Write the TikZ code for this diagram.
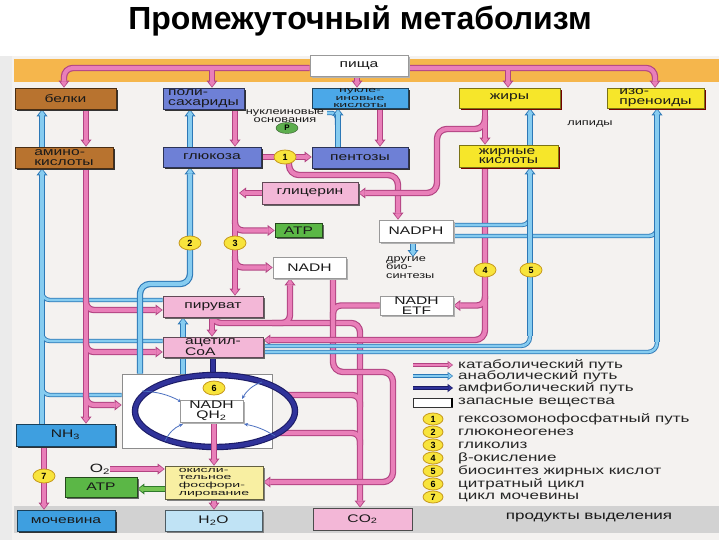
\documentclass[tikz,border=0pt]{standalone}
\usepackage{fontspec}
\setmainfont{Liberation Sans}
\newfontfamily\wfont[FakeStretch=1.42]{Liberation Sans}
\newfontfamily\wfontx[FakeStretch=1.85]{Liberation Sans}
\usetikzlibrary{arrows.meta,shapes.geometric,shadows}
\pgfdeclarelayer{bgl}
\pgfdeclarelayer{pipel}
\pgfsetlayers{bgl,pipel,main}
\definecolor{pk}{HTML}{E97FB9}
\definecolor{pkD}{HTML}{B24382}
\definecolor{bl}{HTML}{86CCF0}
\definecolor{blD}{HTML}{2C78B6}
\definecolor{nv}{HTML}{30339A}
\definecolor{nvD}{HTML}{1C1C66}
\definecolor{gr}{HTML}{74C452}
\definecolor{grD}{HTML}{2F7A2B}
\definecolor{cbrn}{HTML}{B8732F}
\definecolor{cpur}{HTML}{6E80D6}
\definecolor{cnuc}{HTML}{4BA8E8}
\definecolor{cyel}{HTML}{F6E62A}
\definecolor{cpkb}{HTML}{F3B7D7}
\definecolor{cgrb}{HTML}{5BB746}
\definecolor{cnhb}{HTML}{3E9FE0}
\definecolor{ch2o}{HTML}{C0E3F5}
\definecolor{cokf}{HTML}{F8EFA2}
\definecolor{corng}{HTML}{F5B64C}
\definecolor{cbg}{HTML}{F4F2F0}
\definecolor{cgray}{HTML}{D2D2D2}
\definecolor{numF}{HTML}{F8E43C}
\definecolor{numD}{HTML}{C79A1E}
\definecolor{cP}{HTML}{5DAE4E}
\definecolor{cthin}{HTML}{4A6FC0}
\tikzset{
 bx/.style={rectangle, draw, line width=0.7pt, inner sep=0pt, font=\wfont\fontsize{11}{9.8}\selectfont, text=black!90},
 shd/.style={drop shadow={shadow xshift=1.6pt,shadow yshift=-1.6pt,fill=#1,opacity=1}},
 shd/.default=black!80,
 brb/.style={bx, fill=cbrn, draw=cbrn!40!black, shd},
 pub/.style={bx, fill=cpur, draw=cpur!40!black, shd},
 nub/.style={bx, fill=cnuc, draw=cnuc!40!black, shd},
 yeb/.style={bx, fill=cyel, draw=cyel!50!black, shd=red!45!black},
 pib/.style={bx, fill=cpkb, draw=cpkb!40!black, shd=black!60},
 grb/.style={bx, fill=cgrb, draw=cgrb!40!black, shd=black!60},
 whb/.style={bx, fill=white, draw=black!40, shd=black!30},
 nhb/.style={bx, fill=cnhb, draw=cnhb!40!black, shd},
 sz/.style 2 args={minimum width=#1pt, minimum height=#2pt},
 numc/.style={ellipse, draw=numD, fill=numF, line width=0.8pt, minimum width=22pt, minimum height=14pt, inner sep=0pt, font=\bfseries\fontsize{9}{9}\selectfont},
 lt9/.style={inner sep=0pt, font=\wfont\fontsize{9}{8.6}\selectfont, text=black!90},
 lt10/.style={inner sep=0pt, font=\wfont\fontsize{12}{12}\selectfont, text=black!90},
 lgt/.style={anchor=west, inner sep=0pt, font=\wfont\fontsize{12}{12}\selectfont, text=black!85},
 wa/.style={}, twa/.style={}, tp/.style={}
}
\newcommand\pD[3][]{\draw[wa/.style={-{Triangle[length=7pt,width=11pt,line width=0pt]}}, twa/.style={-{Triangle[length=5.5pt,width=8.5pt,line width=0pt]}}, tp/.style={line width=4.4pt}, #2D, line width=6.4pt, #1] #3;}
\newcommand\pL[3][]{\draw[wa/.style={-{Triangle[length=5pt,width=7pt,line width=0pt]},shorten >=1.1pt}, twa/.style={-{Triangle[length=3.8pt,width=5.2pt,line width=0pt]},shorten >=0.9pt}, tp/.style={line width=2.6pt}, #2, line width=4.2pt, #1] #3;}
\newcommand\pP[3][]{\pD[#1]{#2}{#3}\pL[#1]{#2}{#3}}
\begin{document}
\begin{tikzpicture}[x=1pt,y=-1pt]
\useasboundingbox (0,0) rectangle (720,540);
\begin{pgfonlayer}{bgl}
 \fill[white] (0,0) rectangle (720,540);
 \fill[black!8] (0,56) rectangle (12,540);
 \fill[cbg] (12,56) rectangle (719,540);
 \fill[corng] (14,59) rectangle (719,82);
 \fill[cgray] (14,506) rectangle (719,533);
 \node[draw=black!45, fill=white, line width=0.8pt, minimum width=150pt, minimum height=74pt, inner sep=0pt] (cbox) at (197,411) {};
\end{pgfonlayer}

\node[font=\bfseries\fontsize{32}{34}\selectfont] (title) at (360,21) {Промежуточный метаболизм};

% boxes
\node[whb,sz={98}{21}] (food) at (359,65.5) {пища};
\node[brb,sz={101}{21}] (bel) at (65.5,98.5) {белки};
\node[brb,sz={98}{21},align=left] (amin) at (64,157.5) {амино-\\кислоты};
\node[pub,sz={81}{21},align=left] (polis) at (203.5,98.5) {поли-\\сахариды};
\node[pub,sz={98}{20}] (gluc) at (212,157) {глюкоза};
\node[nub,sz={96}{20},align=center,font=\wfontx\fontsize{7.6}{7.4}\selectfont] (nuk) at (360,98) {нукле-\\иновые\\кислоты};
\node[pub,sz={96}{21}] (pent) at (360,157.5) {пентозы};
\node[pib,sz={96}{22}] (glyc) at (310,193) {глицерин};
\node[yeb,sz={101}{20}] (fat) at (509.5,98) {жиры};
\node[yeb,sz={97}{20},align=left] (iso) at (655.5,98) {изо-\\преноиды};
\node[yeb,sz={99}{22},align=left] (fa) at (508.5,156) {жирные\\кислоты};
\node[grb,sz={47}{14}] (atp1) at (298.5,230.5) {ATP};
\node[whb,sz={73}{21}] (nadh) at (309.5,267.5) {NADH};
\node[whb,sz={74}{22}] (nadph) at (416,231) {NADPH};
\node[whb,sz={73}{19},align=center] (etf) at (416.5,305.5) {NADH\\ETF};
\node[pib,sz={100}{21}] (pyr) at (213,306.5) {пируват};
\node[pib,sz={100}{20},align=left] (acoa) at (213,347) {ацетил-\\CoA};
\node[whb,sz={63}{22},align=center] (nadhq) at (211.5,411) {NADH\\QH\textsubscript{2}};
\node[nhb,sz={99}{22}] (nh3) at (65.5,435) {NH\textsubscript{3}};
\node[grb,sz={72}{20}] (atp2) at (101,487) {ATP};
\node[bx,fill=cokf,draw=cokf!40!black,shd=black!50,sz={98}{33},align=left,font=\wfontx\fontsize{7.6}{7.7}\selectfont] (okf) at (214,482.5) {окисли-\\тельное\\фосфори-\\лирование};
\node[nhb,sz={98}{21}] (moch) at (66,520.5) {мочевина};
\node[bx,fill=ch2o,draw=ch2o!40!black,shd=black!50,sz={97}{21}] (h2o) at (213.5,520.5) {H\textsubscript{2}O};
\node[bx,fill=cpkb,draw=black!70,line width=1pt,sz={99}{22}] (co2) at (362.5,519) {CO\textsubscript{2}};

% free texts
\node[lt9,align=center] (nbase) at (285,116) {нуклеиновые\\основания};
\node[lt9] (lip) at (590,124) {липиды};
\node[lt9,align=left,anchor=north west] (bios) at (386,256) {другие\\био-\\синтезы};
\node[lt10] (o2) at (100,469) {O\textsubscript{2}};
\node[lt10] (prod) at (589,518) {продукты выделения};

% numbered circles
\node[numc] (n1) at (285,157) {1};
\node[numc] (n2) at (190,243) {2};
\node[numc] (n3) at (235,243) {3};
\node[numc] (n4) at (485,270) {4};
\node[numc] (n5) at (531,270) {5};
\node[numc] (n6) at (214,388) {6};
\node[numc] (n7) at (44,476) {7};
\node[ellipse, fill=cP, draw=cP!50!black, minimum width=22pt, minimum height=11pt, inner sep=0pt, font=\bfseries\fontsize{8}{8}\selectfont] (pc) at (287,128) {P};

% legend
\node[lgt] (l1) at (458,365) {катаболический путь};
\node[lgt] (l2) at (458,376) {анаболический путь};
\node[lgt] (l3) at (458,388) {амфиболический путь};
\node[draw=black!80, line width=0.6pt, fill=white, minimum width=39pt, minimum height=9pt, inner sep=0pt] (lbox) at (432.5,402.5) {};
\draw[line width=2.2pt] (lbox.north east) -- (lbox.south east);
\node[lgt] (l4) at (458,402) {запасные вещества};
\foreach \n/\yy/\t in {1/419/гексозомонофосфатный путь, 2/432/глюконеогенез, 3/445/гликолиз, 4/458/β-окисление, 5/471/биосинтез жирных кислот, 6/484/цитратный цикл, 7/497/цикл мочевины}{
 \node[numc, minimum width=20pt, minimum height=12pt] (lc\n) at (433,\yy) {\n};
 \node[lgt] (lt\n) at (458,\yy) {\t};
}

\begin{pgfonlayer}{pipel}
% blue amino
\pD[wa]{bl}{(42,0|-nh3.north) -- (42,0|-amin.south)}
\pD[tp,rounded corners=8pt]{bl}{(pyr.west|-0,300) -- (42,300) -- (42,288)}
\pD[tp,rounded corners=8pt]{bl}{(acoa.west|-0,341) -- (42,341) -- (42,329)}
\pD[tp,rounded corners=8pt]{bl}{(cbox.west|-0,395) -- (42,395) -- (42,383)}
\pL[tp,rounded corners=8pt]{bl}{(pyr.west|-0,300) -- (42,300) -- (42,288)}
\pL[tp,rounded corners=8pt]{bl}{(acoa.west|-0,341) -- (42,341) -- (42,329)}
\pL[tp,rounded corners=8pt]{bl}{(cbox.west|-0,395) -- (42,395) -- (42,383)}
\pL[wa]{bl}{(42,0|-nh3.north) -- (42,0|-amin.south)}
\pP[wa]{bl}{(42,0|-amin.north) -- (42,0|-bel.south)}
% pink amino
\pD[wa]{pk}{(86,0|-amin.south) -- (86,0|-nh3.north)}
\pD[wa,rounded corners=8pt]{pk}{(86,298) |- (pyr.west|-0,310)}
\pD[wa,rounded corners=8pt]{pk}{(86,340) |- (acoa.west|-0,352)}
\pD[wa,rounded corners=8pt]{pk}{(86,393) |- (cbox.west|-0,405)}
\pL[wa,rounded corners=8pt]{pk}{(86,298) |- (pyr.west|-0,310)}
\pL[wa,rounded corners=8pt]{pk}{(86,340) |- (acoa.west|-0,352)}
\pL[wa,rounded corners=8pt]{pk}{(86,393) |- (cbox.west|-0,405)}
\pL[wa]{pk}{(86,0|-amin.south) -- (86,0|-nh3.north)}
\pP[wa]{pk}{(86,0|-bel.south) -- (86,0|-amin.north)}
\pP[wa]{pk}{(44,0|-nh3.south) -- (44,0|-moch.north)}
% glucose column
\pP[wa]{pk}{(235,0|-polis.south) -- (235,0|-gluc.north)}
\pP[wa]{bl}{(190,0|-gluc.north) -- (190,0|-polis.south)}
\pP[wa,rounded corners=10pt]{bl}{(140,0|-cbox.north) -- (140,284) -- (190,284) -- (190,0|-gluc.south)}
\pP[wa]{bl}{(183,0|-cbox.north) -- (183,0|-pyr.south)}
% glycolysis
\pD[wa]{pk}{(235,0|-gluc.south) -- (235,0|-pyr.north)}
\pD[wa,rounded corners=8pt]{pk}{(235,220) |- (atp1.west)}
\pD[wa,rounded corners=8pt]{pk}{(235,256) |- (nadh.west)}
\pL[wa,rounded corners=8pt]{pk}{(235,220) |- (atp1.west)}
\pL[wa,rounded corners=8pt]{pk}{(235,256) |- (nadh.west)}
\pL[wa]{pk}{(235,0|-gluc.south) -- (235,0|-pyr.north)}
\pP[wa]{pk}{(glyc.west) -- (239,0|-glyc.west)}
% pentose
\pP[wa]{pk}{(gluc.east) -- (pent.west|-gluc.east)}
\pP[wa,rounded corners=10pt]{pk}{(289,160) -- (289,175) -- (398,175) -- (398,0|-nadph.north)}
% nucleic acids
\pP[tp,rounded corners=5pt]{bl}{(327,113) -- (337,113) -- (337,125)}
\pP[wa]{bl}{(338,0|-pent.north) -- (338,0|-nuk.south)}
\pP[wa]{pk}{(380,0|-nuk.south) -- (380,0|-pent.north)}
% food band
\pD[wa,rounded corners=9pt]{pk}{(food.west|-0,68) -- (64,68) -- (64,0|-bel.north)}
\pD[wa,rounded corners=9pt]{pk}{(food.east|-0,68) -- (655,68) -- (655,0|-iso.north)}
\pD[wa]{pk}{(212,71) -- (212,0|-polis.north)}
\pD[wa]{pk}{(508,71) -- (508,0|-fat.north)}
\pL[wa,rounded corners=9pt]{pk}{(food.west|-0,68) -- (64,68) -- (64,0|-bel.north)}
\pL[wa,rounded corners=9pt]{pk}{(food.east|-0,68) -- (655,68) -- (655,0|-iso.north)}
\pL[wa]{pk}{(212,68) -- (212,0|-polis.north)}
\pL[wa]{pk}{(508,68) -- (508,0|-fat.north)}
\pP[wa]{pk}{(357,0|-food.south) -- (357,0|-nuk.north)}
% lipids
\pD[wa,rounded corners=10pt]{pk}{(485,116) -- (485,129) -- (437,129) -- (437,193) -- (glyc.east)}
\pD[wa]{pk}{(485,0|-fat.south) -- (485,0|-fa.north)}
\pL[wa,rounded corners=10pt]{pk}{(485,116) -- (485,129) -- (437,129) -- (437,193) -- (glyc.east)}
\pL[wa]{pk}{(485,0|-fat.south) -- (485,0|-fa.north)}
\pP[wa]{bl}{(530,0|-fa.north) -- (530,0|-fat.south)}
% pyruvate
\pD[wa]{pk}{(212,0|-pyr.south) -- (212,0|-acoa.north)}
\pD[wa,rounded corners=9pt]{pk}{(212,314) -- (212,323) -- (360,323) -- (360,0|-co2.north)}
\pD[wa,rounded corners=8pt]{pk}{(272,323) -| (290,0|-nadh.south)}
\pD[rounded corners=8pt]{pk}{(285,395) -- (360,395) -- (360,407)}
\pD[rounded corners=8pt]{pk}{(277,433) -- (360,433) -- (360,445)}
\pL[rounded corners=8pt]{pk}{(285,395) -- (360,395) -- (360,407)}
\pL[rounded corners=8pt]{pk}{(277,433) -- (360,433) -- (360,445)}
\pL[wa,rounded corners=8pt]{pk}{(272,323) -| (290,0|-nadh.south)}
\pL[wa,rounded corners=9pt]{pk}{(212,314) -- (212,323) -- (360,323) -- (360,0|-co2.north)}
\pL[wa]{pk}{(212,0|-pyr.south) -- (212,0|-acoa.north)}
% NADH to oxidative phosphorylation
\pD[wa,rounded corners=10pt]{pk}{(333,0|-nadh.south) -- (333,372) -- (393,372) -- (393,482) -- (okf.east|-0,482)}
\pD[rounded corners=8pt]{pk}{(etf.west) -- (333,0|-etf.west) -- (333,318)}
\pL[rounded corners=8pt]{pk}{(etf.west) -- (333,0|-etf.west) -- (333,318)}
\pL[wa,rounded corners=10pt]{pk}{(333,0|-nadh.south) -- (333,372) -- (393,372) -- (393,482) -- (okf.east|-0,482)}
% beta-oxidation
\pD[wa,rounded corners=10pt]{pk}{(485,0|-fa.south) -- (485,340) -- (acoa.east|-0,340)}
\pD[wa,rounded corners=8pt]{pk}{(485,296) |- (etf.east)}
\pL[wa,rounded corners=8pt]{pk}{(485,296) |- (etf.east)}
\pL[wa,rounded corners=10pt]{pk}{(485,0|-fa.south) -- (485,340) -- (acoa.east|-0,340)}
% acetyl-CoA to lipid synthesis
\pP[tp,rounded corners=9pt]{bl}{(acoa.east|-0,346) -- (530,346) -- (530,333)}
\pP[tp,rounded corners=9pt]{bl}{(acoa.east|-0,352) -- (657,352) -- (657,339)}
\pP[tp,rounded corners=8pt]{bl}{(nadph.east|-0,225) -- (530,225) -- (530,215)}
\pP[tp,rounded corners=8pt]{bl}{(nadph.east|-0,236) -- (657,236) -- (657,226)}
\pP[wa]{bl}{(530,336) -- (530,0|-fa.south)}
\pP[wa]{bl}{(657,342) -- (657,0|-iso.south)}
\pP[wa]{bl}{(413,0|-nadph.south) -- (413,257)}
% citrate cycle
\pP{nv}{(213,0|-acoa.south) -- (213,377)}
\draw[nvD, line width=6.4pt] (215,411) ellipse [x radius=80pt, y radius=36pt];
\draw[nv, line width=4.2pt] (215,411) ellipse [x radius=80pt, y radius=36pt];
\draw[cthin, line width=0.8pt, -{Stealth[length=4pt,width=3.5pt]}] (142,391) to[bend left=12] (182,402);
\draw[cthin, line width=0.8pt, -{Stealth[length=4pt,width=3.5pt]}] (262,382) to[bend right=20] (242,399);
\draw[cthin, line width=0.8pt, -{Stealth[length=4pt,width=3.5pt]}] (165,441) to[bend left=20] (183,424);
\draw[cthin, line width=0.8pt, -{Stealth[length=4pt,width=3.5pt]}] (275,436) to[bend right=10] (244,424);
% oxidative phosphorylation
\pP[wa]{pk}{(214,0|-nadhq.south) -- (214,0|-okf.north)}
\pP[wa]{pk}{(214,0|-okf.south) -- (214,0|-h2o.north)}
\pP[wa]{pk}{(o2.east) -- (okf.west|-o2.east)}
\pP[wa]{gr}{(okf.west|-0,489) -- (atp2.east|-0,489)}
% legend arrows
\pP[tp,twa]{pk}{(413,365) -- (453,365)}
\pP[tp,twa]{bl}{(413,376) -- (453,376)}
\pP[tp,twa]{nv}{(413,388) -- (453,388)}
\end{pgfonlayer}
\end{tikzpicture}
\end{document}
